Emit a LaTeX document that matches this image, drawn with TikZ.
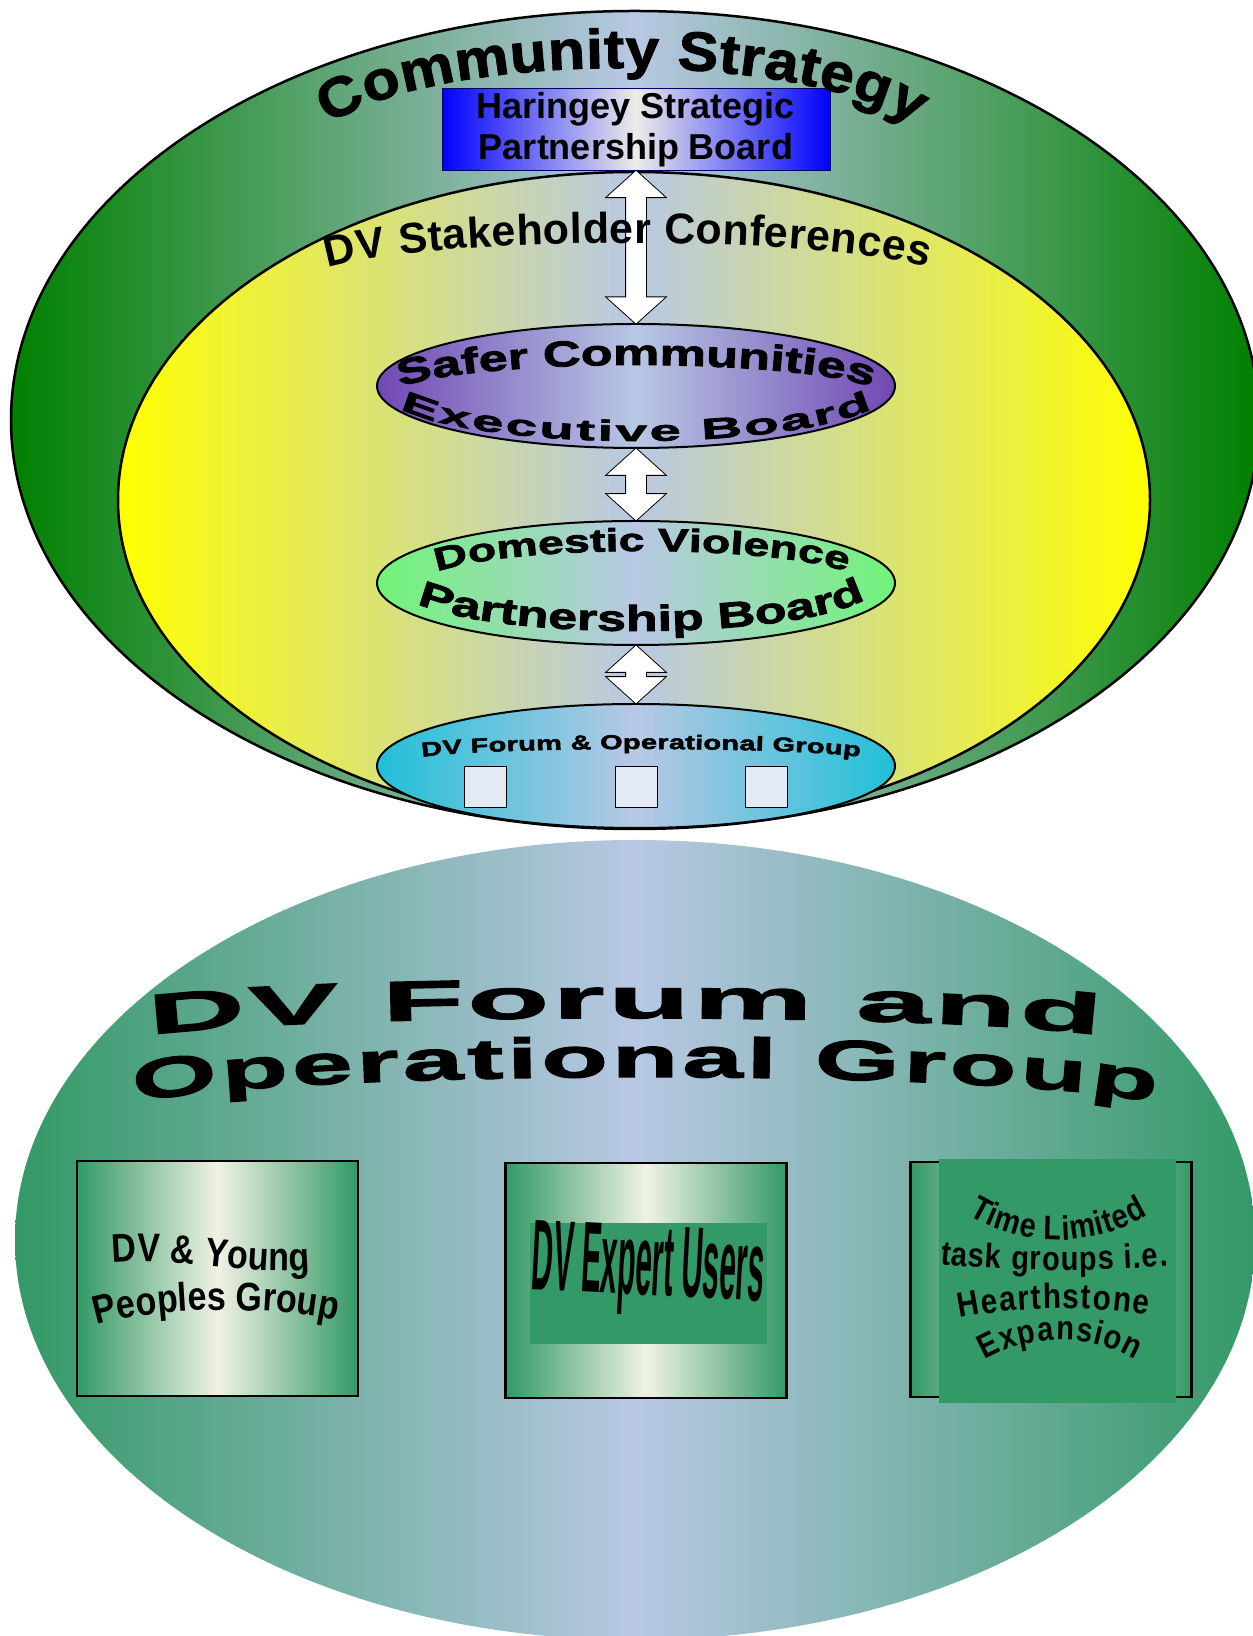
\documentclass[tikz,border=0pt]{standalone}
\usepackage{graphicx}
\usepackage{fontspec}
\setmainfont{Liberation Sans}
\newfontfamily\archfont{Liberation Sans Bold}[FakeStretch=1.1,FakeBold=2]
\newfontfamily\widefont{Liberation Sans Bold}[FakeStretch=1.45,FakeBold=2.5]
\newfontfamily\hugefont{Liberation Sans Bold}[FakeStretch=1.95,FakeBold=2.5]
\newfontfamily\titlefont{Liberation Sans Bold}[FakeStretch=2.4,FakeBold=2.5]
\newfontfamily\condfont{Liberation Sans Bold}[FakeStretch=0.85]
\usetikzlibrary{shapes.geometric,shapes.arrows,decorations.text,calc}

\definecolor{paleblue}{RGB}{184,200,228}
\definecolor{strategygreen}{RGB}{0,128,0}
\definecolor{confyellow}{RGB}{255,255,0}
\definecolor{execpurple}{RGB}{112,72,180}
\definecolor{dvgreen}{RGB}{112,244,120}
\definecolor{forumcyan}{RGB}{32,192,216}
\definecolor{boardblue}{RGB}{0,0,255}
\definecolor{boardwhite}{RGB}{236,236,232}
\definecolor{groupgreen}{RGB}{51,153,102}
\definecolor{boxcream}{RGB}{240,242,228}
\definecolor{squarefill}{RGB}{228,234,244}

\tikzset{
  fadefill/.style={left color=#1, right color=#1, middle color=paleblue},
  ring/.style={ellipse, draw, line width=2.5, inner sep=0, fadefill=#1},
  body/.style={ellipse, draw, line width=2, inner sep=0, minimum width=518, minimum height=124, fadefill=#1},
  updown/.style={double arrow, draw, fill=white, line width=0.8, rotate=90, inner xsep=0, inner ysep=10,
    minimum width=60, double arrow head extend=20, double arrow tip angle=96},
  groupbox/.style={rectangle, draw, line width=2.5, minimum width=281, minimum height=235,
    left color=groupgreen, right color=groupgreen, middle color=boxcream},
  pad/.style={rectangle, fill=groupgreen, inner sep=0, minimum width=237},
  slot/.style={rectangle, draw, line width=0.8, fill=squarefill, inner sep=0, minimum width=42, minimum height=41},
  arctext/.style={decorate, decoration={text along path, text={#1}, text align={fit to path}}}
}

\begin{document}
\begin{tikzpicture}[x=1pt, y=1pt]
\useasboundingbox (0,0) rectangle (1253,1636);
\fill[white] (0,0) rectangle (1253,1636);

% forum and operational group, lower half
\node[ellipse, inner sep=0, minimum width=1240, minimum height=800, fadefill=groupgreen] (fog) at (635,396) {};

% community strategy and stakeholder conferences
\node[ring=strategygreen, minimum width=1248, minimum height=818] (cs) at (635,1216) {};
\node[ring=confyellow, minimum width=1032, minimum height=656] (dvsc) at (634,1136) {};

\node[rectangle, draw=black!60!blue, line width=1, minimum width=388, minimum height=82,
  left color=boardblue, right color=boardblue, middle color=boardwhite, align=center,
  font=\bfseries\fontsize{36}{41}\selectfont] (hspb) at (636,1506) {Haringey Strategic\\Partnership Board};

% boards down the middle
\node[body=execpurple] (sceb) at (636,1250) {};
\node[body=dvgreen] (dvpb) at (636,1053) {};
\node[body=forumcyan] (dvfo) at (636,870) {};
\foreach \sx/\nm in {485/s1, 636/s2, 766/s3}
  \node[slot] (\nm) at (\sx,849) {};

\node[updown, minimum height=154] (a1) at ($(hspb.south)!0.5!(sceb.north)$) {};
\node[updown, minimum height=73] (a2) at ($(sceb.south)!0.5!(dvpb.north)$) {};
\node[updown, minimum height=59] (a3) at ($(dvpb.south)!0.5!(dvfo.north)$) {};

% curved titles
\path[arctext={|\archfont\fontsize{55}{55}\selectfont|Community Strategy}]
  (328.9,1511) arc[start angle=158.5, end angle=21.5, x radius=315, y radius=90];
\path[arctext={|\bfseries\fontsize{43}{43}\selectfont|DV Stakeholder Conferences}]
  (328.1,1368.2) arc[start angle=159.6, end angle=20.4, x radius=320, y radius=38];
\path[arctext={|\widefont\fontsize{36}{36}\selectfont|Safer Communities}]
  (400,1248.9) arc[start angle=160.7, end angle=19.3, x radius=250, y radius=33];
\path[arctext={|\hugefont\fontsize{29}{29}\selectfont|Executive Board}]
  (400,1227.8) arc[start angle=199.3, end angle=340.7, x radius=250, y radius=49];
\path[arctext={|\widefont\fontsize{32}{32}\selectfont|Domestic Violence}]
  (437,1064) arc[start angle=158.7, end angle=21.3, x radius=220, y radius=33];
\path[arctext={|\widefont\fontsize{36}{36}\selectfont|Partnership Board}]
  (417,1032.9) arc[start angle=200.6, end angle=339.4, x radius=235, y radius=43];
\path[arctext={|\widefont\fontsize{20}{20}\selectfont|DV Forum {\&} Operational Group}]
  (422,879) arc[start angle=162.2, end angle=17.8, x radius=230, y radius=11.5];

% the forum and its groups
\path[arctext={|\titlefont\fontsize{56}{56}\selectfont|DV Forum and}]
  (149.9,599.6) arc[start angle=168.4, end angle=11.6, x radius=485, y radius=23];
\path[arctext={|\hugefont\fontsize{56}{56}\selectfont|Operational Group}]
  (135.1,532.1) arc[start angle=168.7, end angle=11.3, x radius=520, y radius=33.5];

\node[groupbox] (yp) at (217.5,357.5) {};
\node[groupbox] (eu) at (646,355.5) {};
\node[groupbox] (tl) at (1051,356.5) {};
\node[pad, minimum height=121] (eupad) at (648.5,352.5) {};
\node[pad, minimum height=244] (tlpad) at (1057.5,355) {};

\path[arctext={|\condfont\fontsize{40}{40}\selectfont|DV {\&} Young}]
  (113,373) .. controls (180,380) and (245,360) .. (310,366);
\path[arctext={|\condfont\fontsize{40}{40}\selectfont|Peoples Group}]
  (97,311) .. controls (160,330) and (270,330) .. (335,316);
\node[inner sep=0, rotate=-3] (eutext) at (648,365) {\resizebox*{232pt}{90pt}{\bfseries DV Expert Users}};
\path[arctext={|\condfont\fontsize{34}{34}\selectfont|Time Limited}]
  (968.1,420.9) arc[start angle=239, end angle=301, radius=174.5];
\path[arctext={|\condfont\fontsize{34}{34}\selectfont|task groups i.e.}]
  (940,372) .. controls (1010,364) and (1100,364) .. (1168,370);
\path[arctext={|\condfont\fontsize{35}{35}\selectfont|Hearthstone}]
  (960,318) .. controls (1020,330) and (1090,330) .. (1148,321);
\path[arctext={|\condfont\fontsize{34}{34}\selectfont|Expansion}]
  (984.9,276) arc[start angle=119.9, end angle=60.1, radius=150.6];
\end{tikzpicture}
\end{document}
